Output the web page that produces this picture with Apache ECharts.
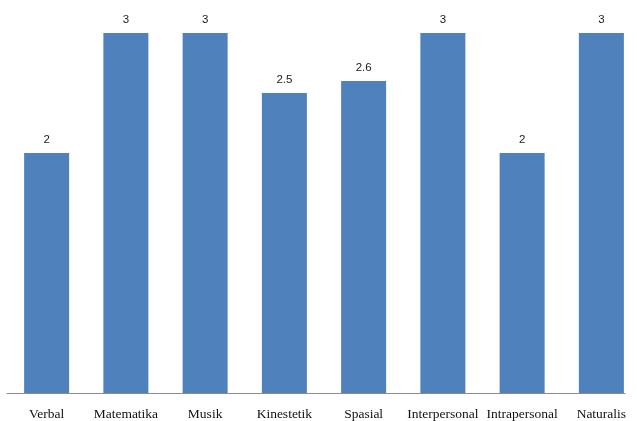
<!DOCTYPE html>
<html><head><meta charset="utf-8">
<script src="https://cdn.jsdelivr.net/npm/echarts@6/dist/echarts.min.js"></script>
<style>html,body{margin:0;padding:0;background:#fff;overflow:hidden}#c{width:641px;height:421px}</style>
</head><body><div id="c"></div>
<script>
const categories = ['Verbal','Matematika','Musik','Kinestetik','Spasial','Interpersonal','Intrapersonal','Naturalis'];
const values = [2, 3, 3, 2.5, 2.6, 3, 2, 3];

const chart = echarts.init(document.getElementById('c'), null, {renderer:'canvas'});
chart.setOption({
  animation: false,
  backgroundColor: '#ffffff',
  grid: [
    {left: 7, right: 0, top: 33, bottom: 28},
    {left: 7, right: 16, top: 33, bottom: 28}
  ],
  xAxis: [
    {
      type: 'category', data: categories, gridIndex: 0,
      axisLine: {show: false},
      axisTick: {show: false},
      axisLabel: {interval: 0, margin: 14, color: '#111', fontFamily: 'Liberation Serif', fontSize: 13.5}
    },
    {
      type: 'value', gridIndex: 1, min: 0, max: 1,
      axisLine: {show: true, lineStyle: {color: '#8c8c8c', width: 1}},
      axisTick: {show: false}, axisLabel: {show: false}, splitLine: {show: false}
    }
  ],
  yAxis: [
    {type: 'value', gridIndex: 0, min: 0, max: 3, show: false},
    {type: 'value', gridIndex: 1, min: 0, max: 1, show: false}
  ],
  series: [{
    type: 'bar', data: values, xAxisIndex: 0, yAxisIndex: 0,
    barWidth: 45,
    itemStyle: {color: '#4f81bd'},
    label: {show: true, position: 'top', distance: 7, color: '#1a1a1a', fontFamily: 'Liberation Sans', fontSize: 11.5}
  }]
});
</script></body></html>
